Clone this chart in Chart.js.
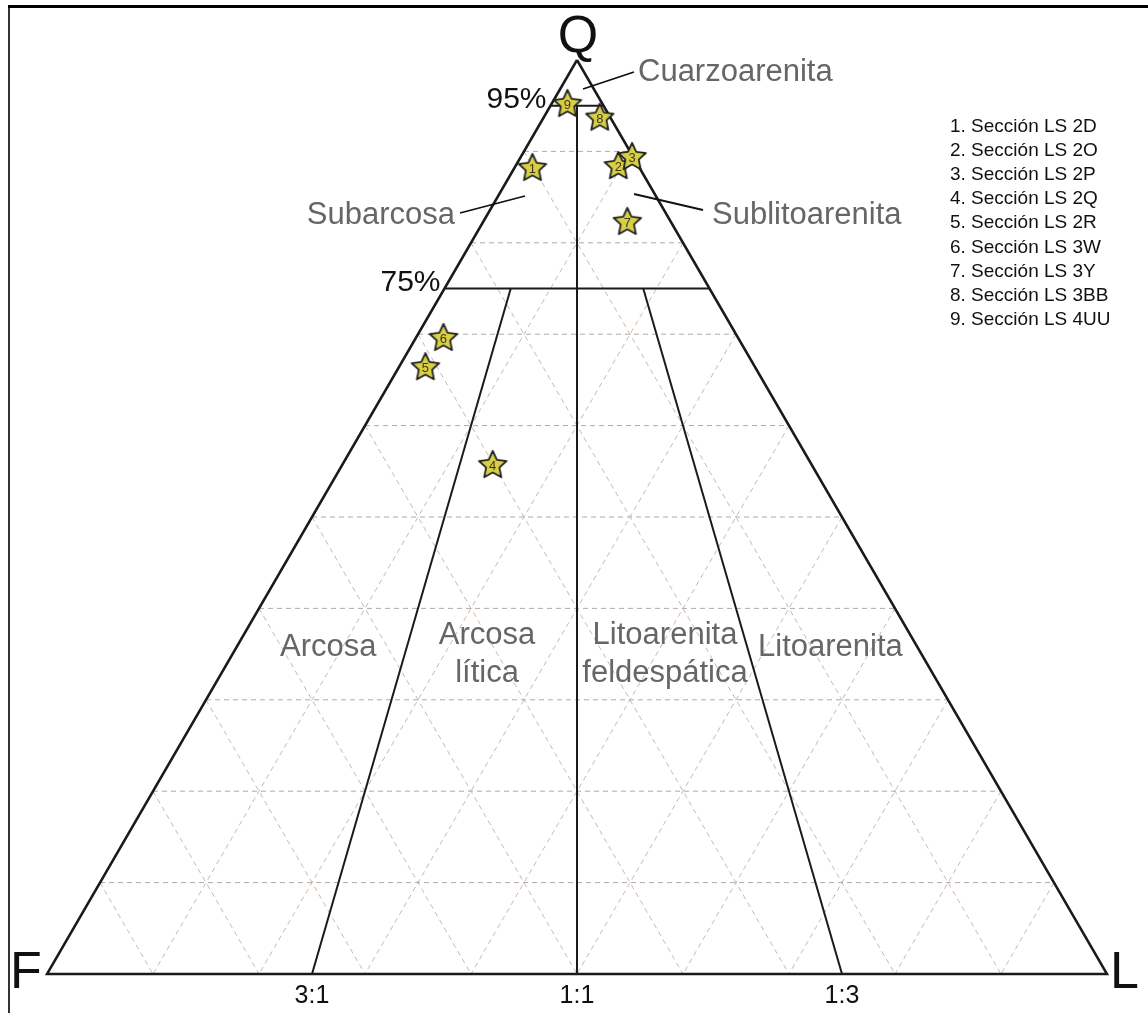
<!DOCTYPE html>
<html>
<head>
<meta charset="utf-8">
<script src="https://cdn.jsdelivr.net/npm/chart.js@4.4.1/dist/chart.umd.min.js"></script>
<style>
  html, body { margin: 0; padding: 0; background: #fff; }
  canvas { display: block; }
</style>
</head>
<body>
<canvas id="ternary" width="1148" height="1013"></canvas>
<script>
// sample composition (%)
const sampleNumbers = ['1', '2', '3', '4', '5', '6', '7', '8', '9'];
const sampleNames = ['Sección LS 2D', 'Sección LS 2O', 'Sección LS 2P', 'Sección LS 2Q', 'Sección LS 2R',
                     'Sección LS 3W', 'Sección LS 3Y', 'Sección LS 3BB', 'Sección LS 4UU'];
const qValues = [88.2, 88.4, 89.4, 55.7, 66.4, 69.6, 82.3, 93.7, 95.2];
const fValues = [10.1, 1.9, 0.1, 30.1, 31.1, 27.8, 4.1, 1.0, 3.3];
const lValues = [1.7, 9.7, 10.5, 14.2, 2.5, 2.6, 13.6, 5.3, 1.5];

// diagram structure
const gridSteps = [10, 20, 30, 40, 50, 60, 70, 80, 90];
const qLimits = [95, 75];
const qLimitLabels = ['95%', '75%'];
const ratioLabels = ['3:1', '1:1', '1:3'];
const ratioLShare = [25, 50, 75];
const ratioStartQ = [75, 95, 75];

// ternary (Q, F, L) -> chart units
function tern(q, f, l) {
    const s = q + f + l;
    return { x: (l + q / 2) / s * 100, y: q / s * 100 };
}

function makeStar() {
    const c = document.createElement('canvas');
    c.width = 34; c.height = 34;
    const g = c.getContext('2d');
    g.beginPath();
    for (let i = 0; i < 10; i++) {
        const r = i % 2 ? 7 : 14.5;
        const a = -Math.PI / 2 + i * Math.PI / 5;
        g.lineTo(17 + r * Math.cos(a), 17.5 + r * Math.sin(a));
    }
    g.closePath();
    g.fillStyle = '#d9cf45';
    g.fill();
    g.lineWidth = 1.8;
    g.lineJoin = 'round';
    g.strokeStyle = '#222';
    g.stroke();
    return c;
}

const lineSet = (pts, color, width, dash) => ({
    data: pts, showLine: true, pointRadius: 0, borderColor: color,
    borderWidth: width, borderDash: dash || [], fill: false, clip: false
});

const datasets = [];

datasets.push({
    data: sampleNumbers.map((n, i) => tern(qValues[i], fValues[i], lValues[i])),
    pointStyle: makeStar(), pointRadius: 15, showLine: false, clip: false
});

// field boundaries
datasets.push(lineSet([tern(100, 0, 0), tern(0, 100, 0), tern(0, 0, 100), tern(100, 0, 0)], '#1a1a1a', 2.5));
qLimits.forEach(q => datasets.push(lineSet([tern(q, 100 - q, 0), tern(q, 0, 100 - q)], '#1a1a1a', 2)));
ratioLShare.forEach((r, i) => {
    const qs = ratioStartQ[i];
    datasets.push(lineSet([
        tern(qs, (100 - qs) * (100 - r) / 100, (100 - qs) * r / 100),
        tern(0, 100 - r, r)
    ], '#1a1a1a', 2));
});

// dashed 10% grid
gridSteps.forEach(k => {
    datasets.push(lineSet([tern(k, 100 - k, 0), tern(k, 0, 100 - k)], '#b3aaa6', 1, [5, 4]));
    datasets.push(lineSet([tern(100 - k, k, 0), tern(0, k, 100 - k)], '#cbb8ad', 1, [5, 4]));
    datasets.push(lineSet([tern(100 - k, 0, k), tern(0, 100 - k, k)], '#cbb8ad', 1, [5, 4]));
});

const FONT = '"Liberation Sans", Arial, sans-serif';

const framePlugin = {
    id: 'frame',
    beforeDraw(chart) {
        const ctx = chart.ctx;
        ctx.save();
        ctx.fillStyle = '#fff';
        ctx.fillRect(0, 0, chart.width, chart.height);
        ctx.strokeStyle = '#000';
        ctx.lineWidth = 3;
        ctx.beginPath(); ctx.moveTo(8, 6.5); ctx.lineTo(chart.width, 6.5); ctx.stroke();
        ctx.lineWidth = 1.6;
        ctx.beginPath(); ctx.moveTo(9, 5); ctx.lineTo(9, chart.height); ctx.stroke();
        ctx.restore();
    }
};

const textPlugin = {
    id: 'texts',
    afterDatasetsDraw(chart) {
        const ctx = chart.ctx;
        const xs = chart.scales.x, ys = chart.scales.y;
        const px = p => ({ x: xs.getPixelForValue(p.x), y: ys.getPixelForValue(p.y) });
        ctx.save();

        // star numbers
        const meta = chart.getDatasetMeta(0);
        ctx.font = '13px ' + FONT;
        ctx.fillStyle = '#3a3a20';
        ctx.textAlign = 'center';
        ctx.textBaseline = 'middle';
        meta.data.forEach((pt, i) => ctx.fillText(sampleNumbers[i], pt.x, pt.y + 1.5));

        // corners
        ctx.fillStyle = '#111';
        ctx.textBaseline = 'alphabetic';
        ctx.font = '52px ' + FONT;
        const top = px(tern(100, 0, 0));
        ctx.textAlign = 'center';
        ctx.fillText('Q', top.x + 1, 52);
        ctx.textAlign = 'left';
        ctx.fillText('F', 10, 988);
        ctx.fillText('L', 1110, 988);

        // base ratios
        ctx.font = '25px ' + FONT;
        ctx.textAlign = 'center';
        ratioLShare.forEach((r, i) => {
            const b = px(tern(0, 100 - r, r));
            ctx.fillText(ratioLabels[i], b.x, b.y + 29);
        });

        // Q limits
        ctx.font = '30px ' + FONT;
        ctx.textAlign = 'right';
        qLimits.forEach((q, i) => {
            const p = px(tern(q, 100 - q, 0));
            ctx.fillText(qLimitLabels[i], p.x - 4, p.y + 2);
        });

        // field names
        ctx.fillStyle = '#666';
        ctx.font = '31px ' + FONT;
        ctx.textAlign = 'left';
        ctx.fillText('Cuarzoarenita', 638, 81);
        ctx.fillText('Sublitoarenita', 712, 224);
        ctx.fillText('Arcosa', 280, 656);
        ctx.fillText('Litoarenita', 758, 656);
        ctx.textAlign = 'right';
        ctx.fillText('Subarcosa', 455, 224);
        ctx.textAlign = 'center';
        ctx.fillText('Arcosa', 487, 644);
        ctx.fillText('lítica', 487, 682);
        ctx.fillText('Litoarenita', 665, 644);
        ctx.fillText('feldespática', 665, 682);

        // leader lines
        ctx.strokeStyle = '#111';
        ctx.lineWidth = 1.8;
        [[583, 89, 634, 72], [460, 213, 525, 196], [634, 194, 703, 210]].forEach(s => {
            ctx.beginPath(); ctx.moveTo(s[0], s[1]); ctx.lineTo(s[2], s[3]); ctx.stroke();
        });

        // sample key
        ctx.fillStyle = '#111';
        ctx.font = '19px ' + FONT;
        ctx.textAlign = 'left';
        sampleNames.forEach((n, i) => ctx.fillText(sampleNumbers[i] + '. ' + n, 950, 132 + i * 24.1));

        ctx.restore();
    }
};

new Chart(document.getElementById('ternary').getContext('2d'), {
    type: 'scatter',
    data: { datasets: datasets },
    options: {
        responsive: false,
        animation: false,
        events: [],
        layout: { padding: { left: 47, right: 41, top: 60, bottom: 39 } },
        scales: {
            x: { type: 'linear', min: 0, max: 100, display: false },
            y: { type: 'linear', min: 0, max: 100, display: false }
        },
        plugins: { legend: { display: false }, tooltip: { enabled: false } }
    },
    plugins: [framePlugin, textPlugin]
});
</script>
</body>
</html>
